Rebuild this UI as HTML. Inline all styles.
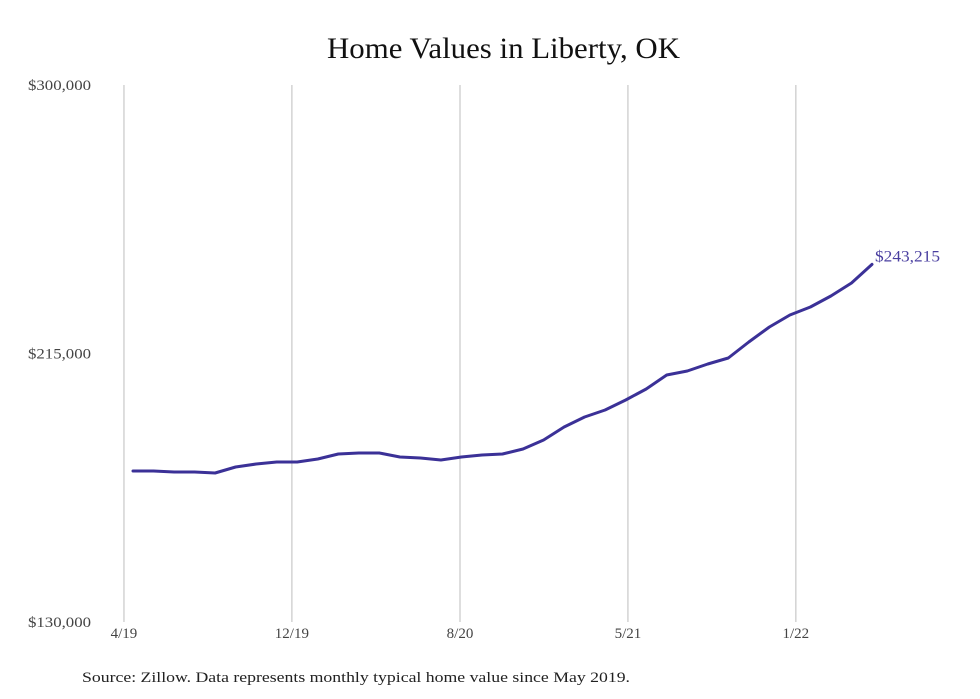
<!DOCTYPE html>
<html><head><meta charset="utf-8"><style>
html,body{margin:0;padding:0;background:#fff;}
svg{display:block;}
text{font-family:"Liberation Serif",serif;}
</style></head><body>
<svg id="chart" width="980" height="699" viewBox="0 0 980 699" xmlns="http://www.w3.org/2000/svg">
<text x="327" y="58" font-size="30" fill="#111" textLength="353" lengthAdjust="spacingAndGlyphs">Home Values in Liberty, OK</text>
<g id="grid"></g>
<g id="yaxis"></g>
<g id="xaxis"></g>
<g id="series"></g>
<text x="82" y="682" font-size="15" fill="#222" textLength="548" lengthAdjust="spacingAndGlyphs">Source: Zillow. Data represents monthly typical home value since May 2019.</text>
</svg>
<script>
const values = [177800,177800,177500,177500,177170,179070,180020,180650,180650,181600,183180,183500,183500,182240,181920,181290,182240,182870,183180,184770,187620,191740,194900,197120,200290,203770,208200,209470,211690,213590,218650,223400,227200,229730,233210,237330,243215];
const yTicks = [130000,215000,300000];
const yTickLabels = ["$130,000","$215,000","$300,000"];
const xTickIdx = [-0.44,7.74,15.93,24.11,32.29];
const xTickLabels = ["4/19","12/19","8/20","5/21","1/22"];
const lastLabel = "$243,215";

const NS="http://www.w3.org/2000/svg";
const plotTop=85,plotBottom=622,px0=133,px1=872;
const yMin=130000,yMax=300000;
function yS(v){return plotBottom-(v-yMin)/(yMax-yMin)*(plotBottom-plotTop);}
function xS(i){return px0+i*(px1-px0)/(values.length-1);}
function mk(tag,attrs,parent){const e=document.createElementNS(NS,tag);for(const k in attrs)e.setAttribute(k,attrs[k]);parent.appendChild(e);return e;}

const grid=document.getElementById('grid'),ya=document.getElementById('yaxis'),xa=document.getElementById('xaxis'),ser=document.getElementById('series');
xTickIdx.forEach((t,i)=>{
  const l=mk('line',{x1:xS(t),x2:xS(t),y1:plotTop,y2:plotBottom,stroke:'#c8c8c8','stroke-width':1.2},grid);
  
  
  const tx=mk('text',{x:xS(t),y:638,'text-anchor':'middle','font-size':15,fill:'#444'},xa);
  tx.textContent=xTickLabels[i];
  
  
});
yTicks.forEach((v,i)=>{
  const tx=mk('text',{x:28,y:yS(v)+5,'font-size':15,fill:'#444',textLength:63,lengthAdjust:'spacingAndGlyphs'},ya);
  tx.textContent=yTickLabels[i];
  
  
});
const pts=values.map((v,i)=>xS(i).toFixed(1)+','+yS(v).toFixed(1)).join(' ');
const pl=mk('polyline',{points:pts,fill:'none',stroke:'#3b3197','stroke-width':3,'stroke-linejoin':'round','stroke-linecap':'round'},ser);


const n=values.length-1;
const lab=mk('text',{x:xS(n)+3,y:yS(values[n])-3,'font-size':16,fill:'#4a3fa0',textLength:65,lengthAdjust:'spacingAndGlyphs'},ser);
lab.textContent=lastLabel;


</script>
</body></html>
